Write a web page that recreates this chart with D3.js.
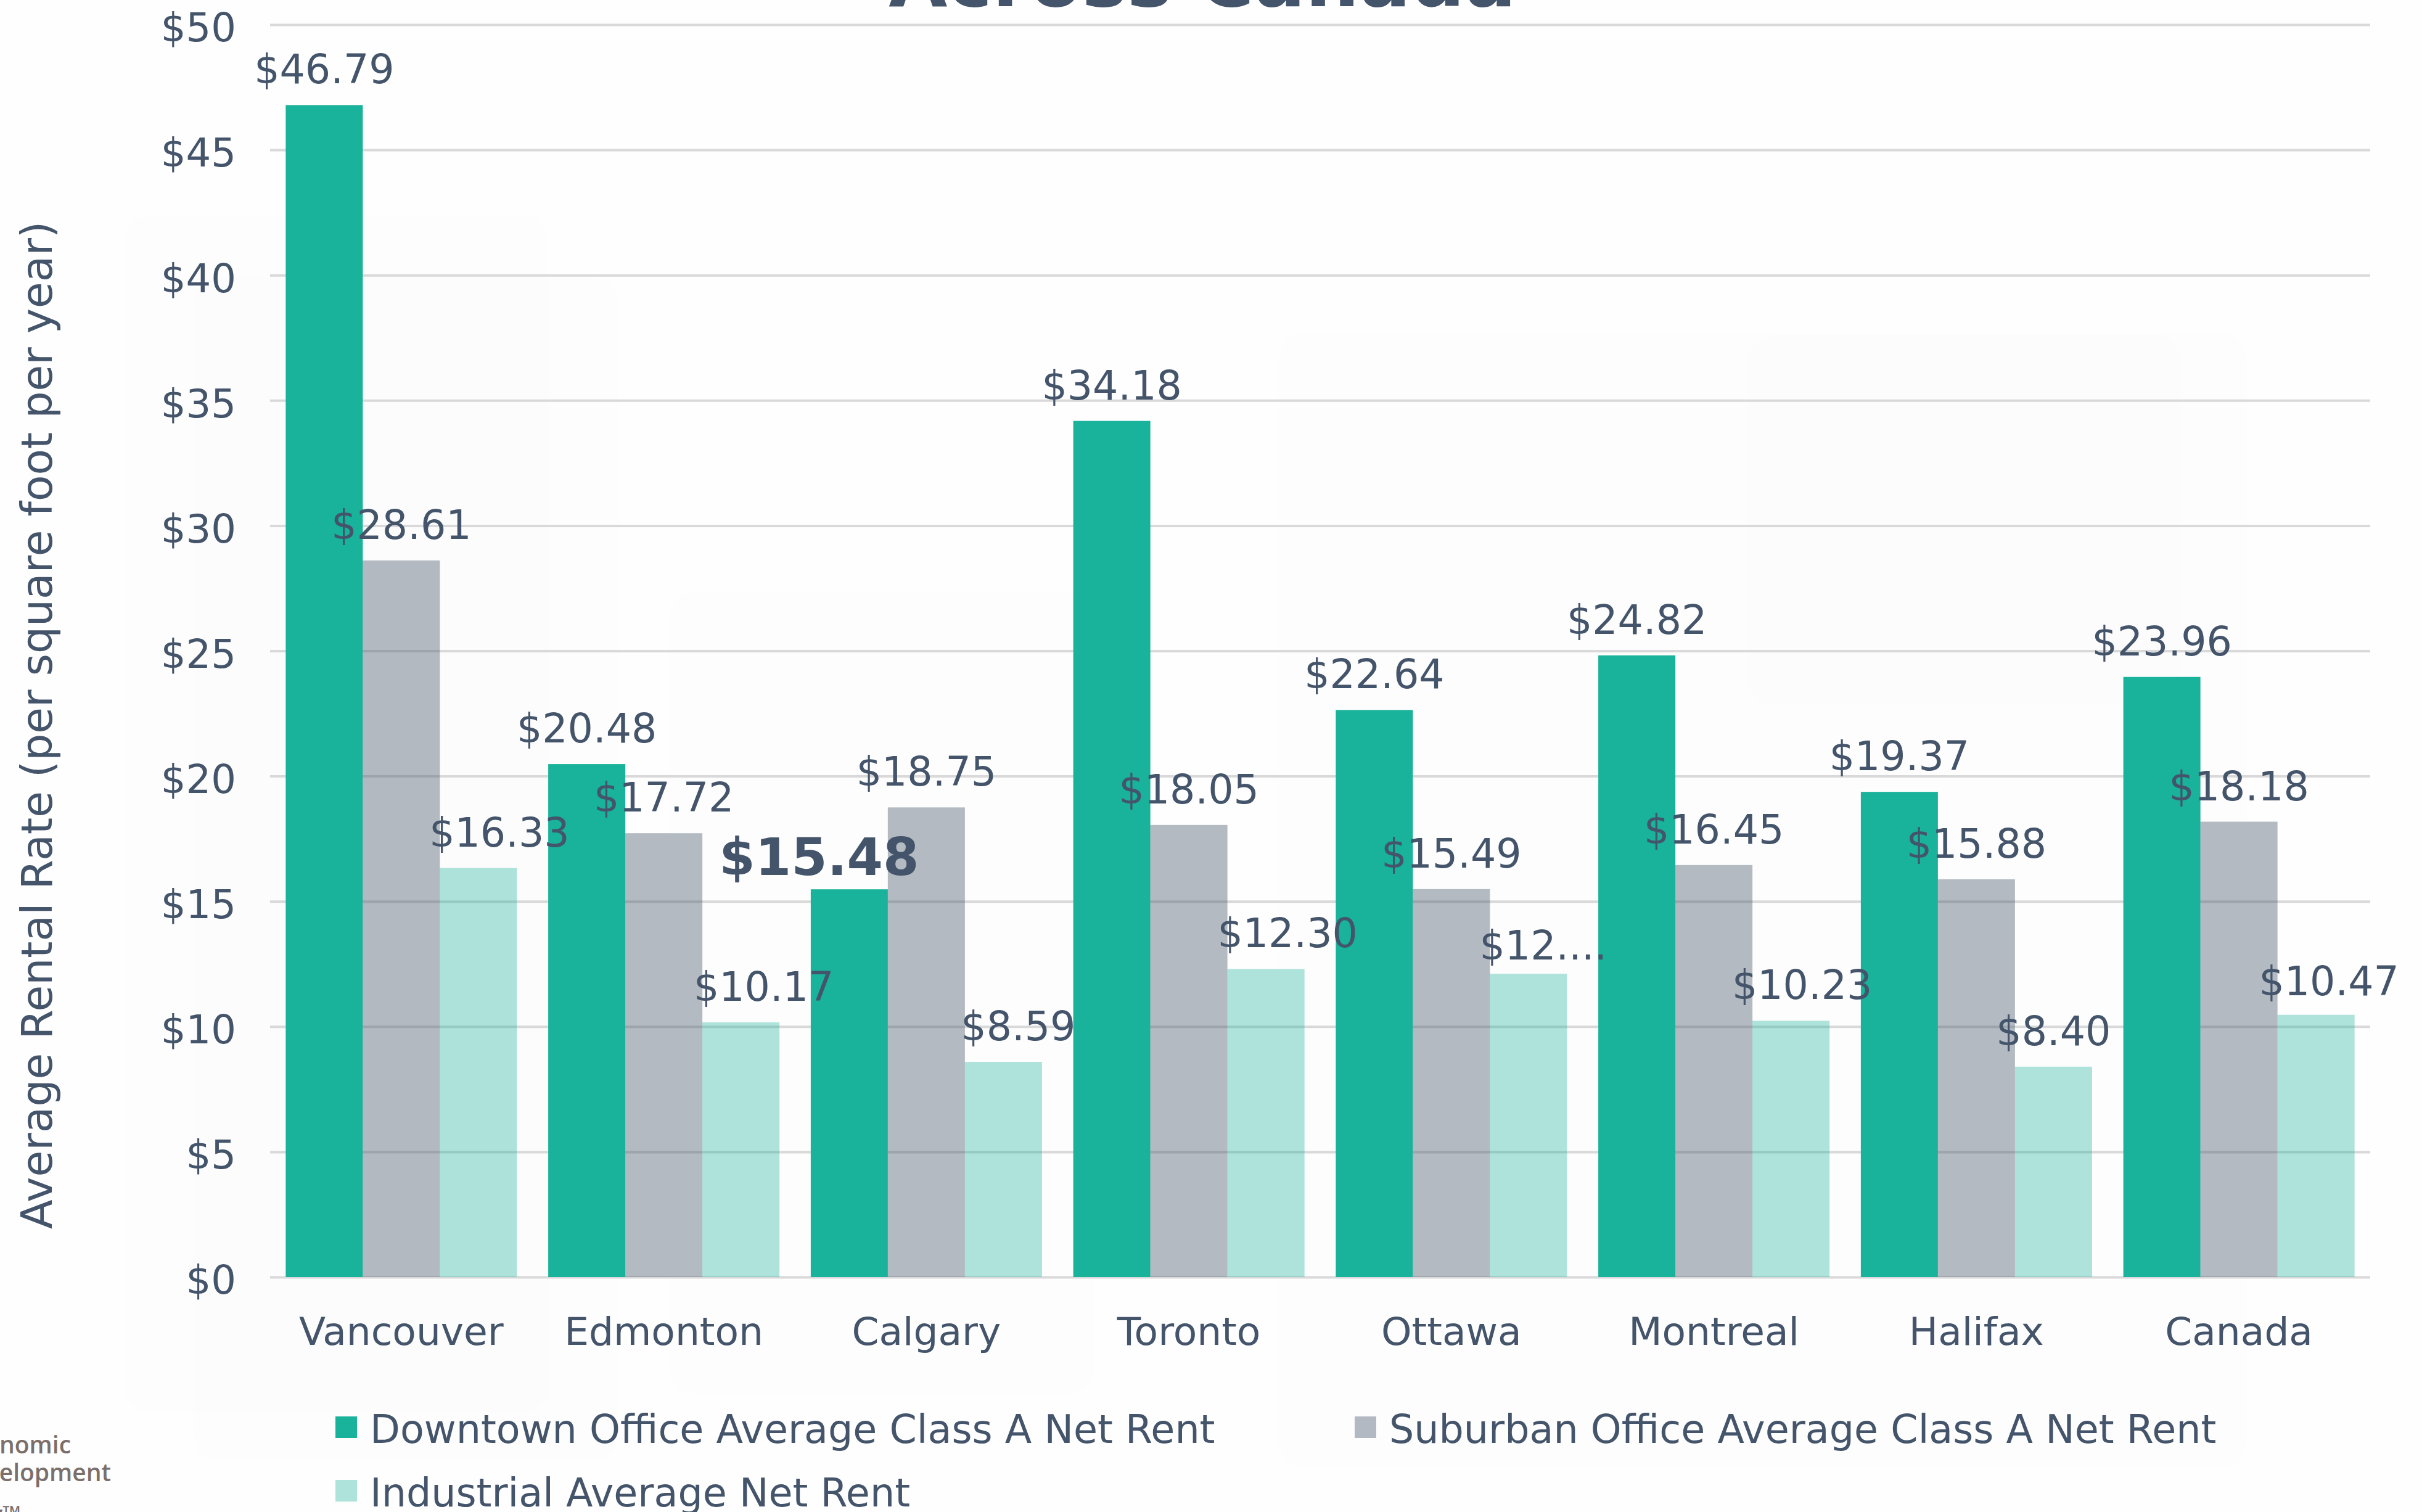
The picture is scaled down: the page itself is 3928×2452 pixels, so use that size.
<!DOCTYPE html>
<html lang="en">
<head>
  <meta charset="UTF-8">
  <title>Average Rental Rates Across Canada</title>
  <script src="https://d3js.org/d3.v7.min.js"></script>
  <style>
    body { margin: 0; background: #fefefe; }
    text { font-family: "DejaVu Sans", Verdana, sans-serif; fill: #44546a; }
  </style>
</head>
<body>
  <svg id="chart" width="3928" height="2452"></svg>
  <script>
    // data
    const cities = ["Vancouver", "Edmonton", "Calgary", "Toronto", "Ottawa", "Montreal", "Halifax", "Canada"];
    const seriesNames = ["Downtown Office Average Class A Net Rent", "Suburban Office Average Class A Net Rent", "Industrial Average Net Rent"];
    const downtown = [46.79, 20.48, 15.48, 34.18, 22.64, 24.82, 19.37, 23.96];
    const suburban = [28.61, 17.72, 18.75, 18.05, 15.49, 16.45, 15.88, 18.18];
    const industrial = [16.33, 10.17, 8.59, 12.30, 12.11, 10.23, 8.40, 10.47];
    const yTicks = [0, 5, 10, 15, 20, 25, 30, 35, 40, 45, 50];

    // label nudges (px) where the original moved labels to avoid collisions
    const industrialNudge = [[34, 0], [37, 0], [24, 0], [35, 0], [24, 12], [18, 0], [0, 0], [21, 3]];

    const svg = d3.select('svg#chart');
    const margins = { top: 40, right: 84, bottom: 381, left: 438 };
    const width = +svg.attr('width');
    const height = +svg.attr('height');

    const x0 = d3.scaleBand().domain(cities).range([margins.left, width - margins.right]).padding(0);
    const x1 = d3.scaleBand().domain(seriesNames).range([0, x0.bandwidth()]).paddingInner(0).paddingOuter(0.203);
    const y = d3.scaleLinear().domain([0, 50]).range([height - margins.bottom, margins.top]);

    const teal = '#19b29a';
    const slate = '#44546a';
    const fills = [
      { fill: teal, op: 1, solid: teal },
      { fill: slate, op: 0.4, solid: '#b3b9c2' },
      { fill: teal, op: 0.35, solid: '#ade3da' }
    ];

    // faint background panels
    const bg = svg.append('g');
    [[200, 350, 690, 1940], [313, 450, 690, 1920], [1085, 960, 690, 1300], [2074, 540, 1570, 1840], [2836, 544, 700, 600]]
      .forEach(r => {
        bg.append('rect').attr('x', r[0]).attr('y', r[1]).attr('width', r[2]).attr('height', r[3])
          .attr('rx', 40).attr('fill', '#000').attr('fill-opacity', 0.005);
      });

    // title (mostly cut off at top)
    svg.append('text')
      .attr('x', 1950).attr('y', 10)
      .attr('text-anchor', 'middle')
      .style('font-weight', 'bold')
      .style('font-size', '123px')
      .text('Across Canada');

    // gridlines + y labels
    const yAxis = svg.append('g')
      .attr('transform', `translate(${margins.left},0)`)
      .call(d3.axisLeft(y).tickValues(yTicks).tickSize(-(width - margins.left - margins.right)).tickPadding(55).tickFormat(d => '$' + d));
    yAxis.select('.domain').remove();
    yAxis.selectAll('line').attr('stroke', '#d9d9d9').attr('stroke-width', 4);
    yAxis.selectAll('text')
      .attr('fill', slate)
      .attr('dy', '0.42em')
      .style('font-size', '64px')
      .style('font-family', '"DejaVu Sans", Verdana, sans-serif');

    // bars
    const series = [downtown, suburban, industrial];
    const barsG = svg.append('g');
    series.forEach((vals, s) => {
      barsG.selectAll(null)
        .data(vals)
        .enter()
        .append('rect')
        .attr('x', (d, i) => x0(cities[i]) + x1(seriesNames[s]))
        .attr('y', d => y(d))
        .attr('width', x1.bandwidth())
        .attr('height', d => y(0) - y(d))
        .attr('fill', fills[s].fill)
        .attr('fill-opacity', fills[s].op);
    });

    // data labels
    const fmt = d3.format('$.2f');
    const labelsG = svg.append('g');
    series.forEach((vals, s) => {
      vals.forEach((d, i) => {
        let cx = x0(cities[i]) + x1(seriesNames[s]) + x1.bandwidth() / 2;
        let by = y(d) - 35;
        let txt = fmt(d);
        let size = 65;
        let bold = false;
        if (s === 2) {
          cx += industrialNudge[i][0];
          by += industrialNudge[i][1];
          if (cities[i] === 'Ottawa') txt = txt.slice(0, 4) + '...'; // truncated in original
        }
        if (s === 0 && cities[i] === 'Calgary') {
          // highlighted label
          cx -= 49; by += 12; size = 84; bold = true;
        }
        labelsG.append('text')
          .attr('x', cx).attr('y', by)
          .attr('text-anchor', 'middle')
          .style('font-size', size + 'px')
          .style('font-weight', bold ? 'bold' : 'normal')
          .text(txt);
      });
    });

    // x labels
    svg.append('g').selectAll('text')
      .data(cities)
      .enter()
      .append('text')
      .attr('x', d => x0(d) + x0.bandwidth() / 2)
      .attr('y', 2181)
      .attr('text-anchor', 'middle')
      .style('font-size', '63px')
      .text(d => d);

    // y axis title
    svg.append('text')
      .attr('transform', 'translate(84,1176) rotate(-90)')
      .attr('text-anchor', 'middle')
      .style('font-size', '69.5px')
      .text('Average Rental Rate (per square foot per year)');

    // legend
    const legendPos = [[544, 2297], [2197, 2297], [544, 2400]];
    seriesNames.forEach((name, s) => {
      const g = svg.append('g').attr('transform', `translate(${legendPos[s][0]},${legendPos[s][1]})`);
      g.append('rect').attr('width', 35).attr('height', 35).attr('fill', fills[s].solid);
      g.append('text').attr('x', 56).attr('y', 43).style('font-size', '63.5px').text(name);
    });

    // logo fragment bottom-left
    const logo = svg.append('g');
    [['Economic', 115, 2357], ['Development', 180, 2402], ['City\u2122', 34, 2470]].forEach(t => {
      logo.append('text')
        .attr('x', t[1]).attr('y', t[2])
        .attr('text-anchor', 'end')
        .style('font-family', '"Open Sans", sans-serif')
        .style('font-weight', '600')
        .style('font-size', '39px')
        .style('fill', '#7b6f6b')
        .text(t[0]);
    });
  </script>
</body>
</html>
